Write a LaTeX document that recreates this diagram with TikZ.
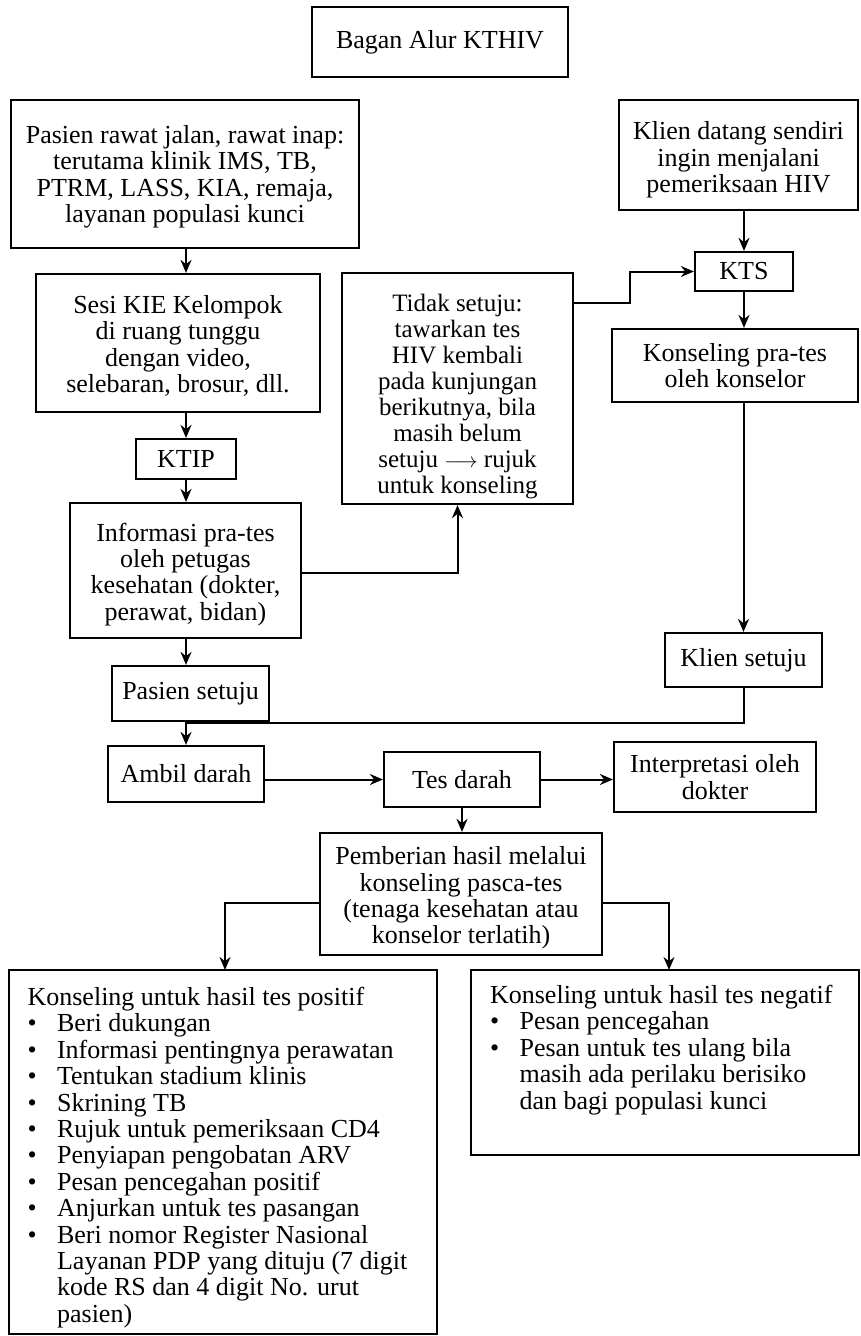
\documentclass[tikz,border=0pt]{standalone}
\usepackage{fontspec}
\setmainfont{Liberation Serif}
\usetikzlibrary{arrows.meta}
\tikzset{
  box/.style={draw, line width=2.2pt, align=center, inner sep=0pt,
    font=\fontsize{26}{26.4}\selectfont},
  listtext/.style={align=left, inner sep=0pt, anchor=north west,
    font=\fontsize{26}{26.4}\selectfont},
  arr/.style={line width=2pt, -{Stealth[length=13pt,width=11pt]}},
  ln/.style={line width=2pt},
}
\newcommand{\bulitem}[1]{\makebox[29.5pt][l]{\textbullet}#1}
\newcommand{\contitem}[1]{\hspace*{29.5pt}#1}
\newcommand{\topgap}[1]{\rule{0pt}{#1}}
\begin{document}
\begin{tikzpicture}[x=1pt,y=-1pt]
\useasboundingbox (0,0) rectangle (860,1336);
% nodes
\node[box, minimum width=256pt, minimum height=70pt] (title) at (440,42) {Bagan Alur KTHIV};
\node[box, minimum width=348pt, minimum height=148pt] (b1) at (185,174)
  {\topgap{24pt}Pasien rawat jalan, rawat inap:\\terutama klinik IMS, TB,\\PTRM, LASS, KIA, remaja,\\layanan populasi kunci};
\node[box, minimum width=284pt, minimum height=138pt] (b2) at (178,343)
  {\topgap{24pt}Sesi KIE Kelompok\\di ruang tunggu\\dengan video,\\selebaran, brosur, dll.};
\node[box, minimum width=100pt, minimum height=40pt] (ktip) at (186,459) {KTIP};
\node[box, minimum width=231pt, minimum height=135pt] (info) at (185.5,570.5)
  {\topgap{26pt}Informasi pra-tes\\oleh petugas\\kesehatan (dokter,\\perawat, bidan)};
\node[box, minimum width=157pt, minimum height=55pt] (ps) at (190.5,693.5) {Pasien setuju};
\node[box, minimum width=156pt, minimum height=56pt] (ad) at (186,774) {Ambil darah};
\node[box, minimum width=156pt, minimum height=55pt] (td) at (462,779.5) {Tes darah};
\node[box, minimum width=202pt, minimum height=70pt] (ip) at (715,777) {Interpretasi oleh\\dokter};
\node[box, minimum width=282pt, minimum height=122pt] (ph) at (461,894)
  {\topgap{26pt}Pemberian hasil melalui\\konseling pasca-tes\\(tenaga kesehatan atau\\konselor terlatih)};
\node[box, minimum width=428pt, minimum height=364pt] (pos) at (223,1152) {};
\node[box, minimum width=388pt, minimum height=185pt] (neg) at (665,1062.5) {};
\node[box, minimum width=239pt, minimum height=110pt] (kd) at (738.5,155)
  {\topgap{28pt}Klien datang sendiri\\ingin menjalani\\pemeriksaan HIV};
\node[box, minimum width=98pt, minimum height=39pt] (kts) at (744,271.5) {KTS};
\node[box, minimum width=246pt, minimum height=73pt] (kpt) at (735,365.5)
  {Konseling pra-tes\\oleh konselor};
\node[box, minimum width=157pt, minimum height=54pt] (ks) at (743.5,660) {Klien setuju};
\node[box, minimum width=231pt, minimum height=231pt, font=\fontsize{25}{26}\selectfont] (ts) at (457.5,388.5)
  {\topgap{34pt}Tidak setuju:\\tawarkan tes\\HIV kembali\\pada kunjungan\\berikutnya, bila\\masih belum\\setuju {\fontsize{22}{22}\selectfont$\longrightarrow$} rujuk\\untuk konseling};
% list texts
\node[listtext] (posT) at ([xshift=19.5pt,yshift=-18pt]pos.north west)
  {Konseling untuk hasil tes positif\\
   \bulitem{Beri dukungan}\\
   \bulitem{Informasi pentingnya perawatan}\\
   \bulitem{Tentukan stadium klinis}\\
   \bulitem{Skrining TB}\\
   \bulitem{Rujuk untuk pemeriksaan CD4}\\
   \bulitem{Penyiapan pengobatan ARV}\\
   \bulitem{Pesan pencegahan positif}\\
   \bulitem{Anjurkan untuk tes pasangan}\\
   \bulitem{Beri nomor Register Nasional}\\
   \contitem{Layanan PDP yang dituju (7 digit}\\
   \contitem{kode RS dan 4 digit No. urut}\\
   \contitem{pasien)}};
\node[listtext] (negT) at ([xshift=20pt,yshift=-16pt]neg.north west)
  {Konseling untuk hasil tes negatif\\
   \bulitem{Pesan pencegahan}\\
   \bulitem{Pesan untuk tes ulang bila}\\
   \contitem{masih ada perilaku berisiko}\\
   \contitem{dan bagi populasi kunci}};
% helper coordinates
\coordinate (colx) at (186,0);
\coordinate (join) at (186,723);
\coordinate (tk) at (630,303);
\coordinate (posin) at (225,970);
\coordinate (negin) at (669,970);
% connectors
\draw[arr] (colx |- b1.south) -- (colx |- b2.north);
\draw[arr] (colx |- b2.south) -- (colx |- ktip.north);
\draw[arr] (colx |- ktip.south) -- (colx |- info.north);
\draw[arr] (colx |- info.south) -- (colx |- ps.north);
\draw[arr] (colx |- ps.south) -- (colx |- ad.north);
\draw[ln] (ks.south) |- (join);
\draw[arr] (ad.east |- td.west) -- (td.west);
\draw[arr] (td.east) -- (td.east -| ip.west);
\draw[arr] (td.south) -- (td.south |- ph.north);
\draw[arr] ([yshift=-9pt]ph.west) -| (posin);
\draw[arr] ([yshift=-9pt]ph.east) -| (negin);
\draw[arr] ([yshift=-2.5pt]info.east) -| (ts.south);
\draw[arr] (tk -| ts.east) -- (tk) |- (kts.west);
\draw[arr] (kts.north |- kd.south) -- (kts.north);
\draw[arr] (kts.south) -- (kts.south |- kpt.north);
\draw[arr] (ks.north |- kpt.south) -- (ks.north);
\end{tikzpicture}
\end{document}
